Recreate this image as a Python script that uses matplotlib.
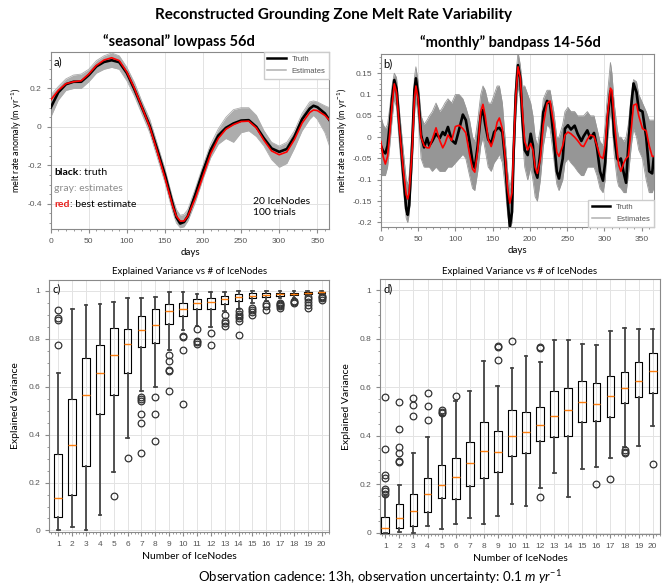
import matplotlib
matplotlib.use("Agg")
import matplotlib.pyplot as plt
from matplotlib.ticker import MultipleLocator, AutoMinorLocator
from matplotlib.lines import Line2D

plt.rcParams['font.family'] = ['Lato', 'DejaVu Sans']
plt.rcParams['mathtext.fontset'] = 'custom'
plt.rcParams['mathtext.rm'] = 'Lato'
plt.rcParams['mathtext.it'] = 'Lato:italic'

# ---------- panel a: seasonal lowpass ----------
days_a = [0, 10, 20, 30, 40, 50, 60, 70, 80, 90, 100, 110, 120, 130, 140, 150, 160, 165, 170, 175,
          180, 190, 200, 210, 220, 230, 240, 250, 260, 270, 280, 290, 300, 310, 320, 330, 340, 345,
          350, 360, 366]
truth_a = [0.10, 0.18, 0.222, 0.235, 0.235, 0.27, 0.315, 0.338, 0.347, 0.337, 0.28, 0.195, 0.10,
           0.005, -0.12, -0.25, -0.40, -0.47, -0.503, -0.495, -0.465, -0.35, -0.23, -0.12, -0.045,
           -0.005, 0.018, 0.033, 0.035, 0.0, -0.06, -0.112, -0.13, -0.115, -0.05, 0.04, 0.095, 0.11,
           0.103, 0.07, 0.035]
best_a = [0.14, 0.19, 0.225, 0.235, 0.24, 0.275, 0.32, 0.348, 0.36, 0.345, 0.285, 0.20, 0.10, 0.0,
          -0.13, -0.265, -0.41, -0.465, -0.49, -0.49, -0.465, -0.37, -0.255, -0.14, -0.06, -0.012,
          0.012, 0.028, 0.03, -0.005, -0.07, -0.125, -0.145, -0.13, -0.065, 0.02, 0.075, 0.088,
          0.085, 0.06, 0.035]
est_lo_a = [0.05, 0.14, 0.19, 0.20, 0.20, 0.235, 0.28, 0.30, 0.31, 0.30, 0.24, 0.16, 0.065, -0.03,
            -0.16, -0.29, -0.44, -0.50, -0.525, -0.52, -0.49, -0.39, -0.27, -0.16, -0.09, -0.06,
            -0.08, -0.03, -0.02, -0.05, -0.10, -0.17, -0.21, -0.19, -0.11, -0.02, 0.04, 0.06, 0.04,
            -0.03, -0.10]
est_hi_a = [0.165, 0.21, 0.25, 0.27, 0.275, 0.30, 0.345, 0.37, 0.385, 0.37, 0.31, 0.23, 0.13, 0.04,
            -0.09, -0.22, -0.37, -0.43, -0.46, -0.455, -0.43, -0.32, -0.20, -0.09, -0.01, 0.05,
            0.09, 0.10, 0.10, 0.06, -0.02, -0.08, -0.10, -0.08, -0.02, 0.07, 0.13, 0.135, 0.13,
            0.11, 0.10]

# ---------- panel b: monthly bandpass ----------
days_b = [0, 3, 6, 9, 12, 15, 18, 21, 25, 30, 34, 36, 38, 42, 45, 47, 50, 54, 58, 62, 65, 69, 74,
          79, 83, 86, 90, 95, 100, 105, 110, 114, 119, 123, 126, 130, 134, 137, 140, 144, 148, 152,
          156, 159, 163, 167, 170, 173, 176, 178, 181, 184, 187, 190, 193, 197, 201, 204, 207, 210,
          214, 218, 223, 227, 232, 236, 239, 244, 247, 251, 255, 260, 264, 269, 272, 277, 281, 286,
          290, 294, 298, 301, 304, 308, 310, 313, 317, 319, 322, 326, 329, 332, 336, 339, 343, 346,
          351, 356, 360, 364, 366]
truth_b = [-0.02, -0.033, -0.038, -0.02, 0.03, 0.09, 0.134, 0.114, 0.024, -0.085, -0.168, -0.182,
           -0.16, -0.02, 0.11, 0.138, 0.10, 0.005, -0.024, -0.002, -0.02, -0.009, 0.008, -0.002,
           0.012, 0.005, 0.024, -0.007, -0.015, 0.018, 0.053, 0.04, -0.011, -0.058, -0.072, -0.019,
           0.05, 0.064, 0.03, -0.005, -0.015, 0.012, 0.02, 0.022, 0.012, -0.058, -0.144, -0.21,
           -0.175, -0.04, 0.10, 0.169, 0.14, 0.04, -0.03, -0.042, 0.008, -0.019, -0.08, -0.095,
           -0.034, 0.059, 0.085, 0.078, -0.003, -0.08, -0.097, -0.05, 0.02, 0.028, 0.018, 0.027,
           0.008, -0.009, 0.002, 0.016, -0.003, 0.01, -0.025, -0.08, -0.102, -0.058, 0.04, 0.108,
           0.092, 0.005, -0.05, -0.055, -0.05, -0.085, -0.107, -0.02, 0.075, 0.126, 0.105, 0.065,
           0.06, 0.0, -0.08, -0.085, -0.05]
best_b = [-0.01, -0.045, -0.063, -0.045, 0.01, 0.075, 0.125, 0.105, 0.02, -0.075, -0.135, -0.145,
          -0.13, -0.03, 0.09, 0.12, 0.09, 0.0, -0.02, -0.025, -0.025, -0.005, 0.022, -0.008,
          -0.025, -0.015, 0.005, -0.008, 0.025, 0.028, 0.02, 0.01, -0.04, -0.075, -0.082, -0.03,
          0.06, 0.077, 0.05, -0.005, -0.022, 0.0, 0.035, 0.045, 0.02, -0.05, -0.12, -0.155, -0.13,
          -0.03, 0.095, 0.165, 0.14, 0.06, -0.01, -0.03, -0.015, -0.03, -0.07, -0.085, -0.05, 0.03,
          0.08, 0.085, 0.03, -0.035, -0.045, -0.02, 0.005, 0.012, 0.008, 0.0, -0.008, -0.02,
          -0.022, -0.005, 0.005, 0.002, -0.02, -0.045, -0.05, -0.02, 0.05, 0.115, 0.11, 0.04,
          -0.03, -0.065, -0.08, -0.06, -0.05, -0.045, 0.02, 0.075, 0.078, 0.05, 0.02, 0.015,
          -0.02, -0.045, -0.045]
est_lo_b = [-0.09, -0.09, -0.09, -0.07, -0.02, 0.04, 0.09, 0.07, -0.02, -0.12, -0.19, -0.20,
            -0.18, -0.07, 0.05, 0.09, 0.05, -0.05, -0.07, -0.07, -0.07, -0.08, -0.07, -0.08,
            -0.08, -0.08, -0.07, -0.07, -0.06, -0.05, -0.04, -0.05, -0.09, -0.12, -0.125, -0.08,
            -0.02, 0.0, -0.03, -0.07, -0.08, -0.06, -0.05, -0.04, -0.06, -0.12, -0.18, -0.215,
            -0.20, -0.09, 0.05, 0.12, 0.09, 0.0, -0.07, -0.10, -0.07, -0.10, -0.14, -0.15, -0.10,
            -0.02, 0.03, 0.02, -0.05, -0.11, -0.125, -0.10, -0.06, -0.05, -0.06, -0.07, -0.08,
            -0.09, -0.09, -0.07, -0.07, -0.07, -0.09, -0.12, -0.13, -0.10, -0.01, 0.06, 0.04,
            -0.04, -0.10, -0.115, -0.12, -0.13, -0.13, -0.09, -0.02, 0.02, 0.0, -0.03, -0.05,
            -0.10, -0.13, -0.13, -0.12]
est_hi_b = [0.05, 0.03, 0.02, 0.03, 0.07, 0.12, 0.15, 0.14, 0.06, -0.03, -0.10, -0.11, -0.09, 0.02,
            0.14, 0.165, 0.13, 0.05, 0.03, 0.04, 0.05, 0.06, 0.08, 0.06, 0.07, 0.08, 0.09, 0.08,
            0.10, 0.10, 0.09, 0.07, 0.04, 0.0, -0.01, 0.04, 0.10, 0.12, 0.11, 0.08, 0.08, 0.10,
            0.12, 0.12, 0.08, -0.01, -0.08, -0.12, -0.09, 0.0, 0.14, 0.20, 0.17, 0.12, 0.12, 0.10,
            0.08, 0.05, 0.0, -0.02, 0.02, 0.09, 0.11, 0.11, 0.06, 0.0, 0.0, 0.03, 0.06, 0.07, 0.06,
            0.06, 0.05, 0.05, 0.05, 0.06, 0.05, 0.05, 0.02, -0.01, -0.02, 0.03, 0.10, 0.175, 0.15,
            0.08, 0.02, 0.0, 0.0, -0.01, 0.0, 0.03, 0.10, 0.135, 0.13, 0.10, 0.08, 0.06, 0.04,
            0.04, 0.04]

# ---------- panel c: seasonal explained variance ----------
nodes = list(range(1, 21))
c_med = [0.135, 0.355, 0.565, 0.655, 0.733, 0.777, 0.838, 0.858, 0.915, 0.922, 0.947, 0.954,
         0.964, 0.974, 0.978, 0.982, 0.985, 0.988, 0.990, 0.993]
c_q1 = [0.055, 0.15, 0.27, 0.485, 0.567, 0.657, 0.765, 0.782, 0.862, 0.896, 0.922, 0.922, 0.944,
        0.957, 0.968, 0.972, 0.978, 0.982, 0.987, 0.989]
c_q3 = [0.32, 0.55, 0.72, 0.775, 0.845, 0.84, 0.893, 0.925, 0.945, 0.951, 0.965, 0.971, 0.979,
        0.985, 0.989, 0.989, 0.990, 0.992, 0.994, 0.996]
c_lo = [0.0, 0.013, 0.0, 0.065, 0.243, 0.385, 0.58, 0.597, 0.755, 0.836, 0.855, 0.847, 0.915,
        0.926, 0.947, 0.957, 0.968, 0.971, 0.982, 0.985]
c_hi = [0.655, 0.925, 0.94, 0.945, 0.952, 0.968, 0.968, 0.975, 0.993, 0.993, 0.986, 0.995, 0.996,
        0.997, 0.997, 0.997, 0.997, 0.998, 0.998, 0.999]
c_fliers = [[0.92, 0.885, 0.88, 0.775], [], [], [], [0.145], [0.303],
            [0.558, 0.548, 0.54, 0.488, 0.45, 0.322], [0.558, 0.487, 0.373],
            [0.733, 0.707, 0.668, 0.665, 0.58], [0.81, 0.806, 0.755, 0.527],
            [0.84, 0.792, 0.786, 0.78], [0.822, 0.773], [0.897, 0.875, 0.864, 0.851],
            [0.915, 0.905, 0.895, 0.885, 0.875, 0.815], [0.93, 0.92, 0.912, 0.898],
            [0.945, 0.937, 0.92], [0.95, 0.945, 0.94, 0.935, 0.93], [0.958, 0.952, 0.948],
            [0.975, 0.965, 0.955, 0.94, 0.928], [0.978, 0.972, 0.968, 0.962]]

# ---------- panel d: monthly explained variance ----------
d_med = [0.018, 0.061, 0.091, 0.161, 0.197, 0.23, 0.287, 0.338, 0.335, 0.40, 0.415, 0.444, 0.48,
         0.506, 0.539, 0.531, 0.564, 0.596, 0.626, 0.669]
d_q1 = [0.0, 0.019, 0.029, 0.086, 0.142, 0.138, 0.194, 0.225, 0.252, 0.316, 0.327, 0.378, 0.394,
        0.399, 0.455, 0.462, 0.479, 0.534, 0.561, 0.577]
d_q3 = [0.065, 0.12, 0.161, 0.228, 0.28, 0.308, 0.374, 0.455, 0.421, 0.506, 0.497, 0.52, 0.583,
        0.597, 0.625, 0.617, 0.647, 0.661, 0.703, 0.741]
d_lo = [0.0, 0.004, 0.0, 0.03, 0.014, 0.037, 0.059, 0.037, 0.07, 0.119, 0.11, 0.183, 0.248, 0.149,
        0.265, 0.273, 0.31, 0.354, 0.359, 0.441]
d_hi = [0.152, 0.197, 0.328, 0.393, 0.485, 0.543, 0.583, 0.71, 0.607, 0.68, 0.728, 0.703, 0.793,
        0.796, 0.779, 0.775, 0.83, 0.844, 0.841, 0.841]
d_fliers = [[0.56, 0.345, 0.24, 0.225, 0.179, 0.172, 0.16],
            [0.538, 0.43, 0.352, 0.331, 0.296, 0.292], [0.556, 0.528, 0.483],
            [0.575, 0.521, 0.465], [0.505, 0.498, 0.492], [0.566], [], [],
            [0.772, 0.765, 0.714], [0.789], [], [0.768, 0.762, 0.149], [], [], [], [0.20],
            [0.222], [0.342, 0.335, 0.328], [], [0.283]]

fig = plt.figure(figsize=(6.67, 5.86), dpi=100)

frame_col = '#8a8a8a'


def style_axes(ax):
    for s in ax.spines.values():
        s.set_color(frame_col)
        s.set_linewidth(0.8)
    ax.tick_params(which='both', colors=frame_col, labelcolor='#555555', labelsize=6,
                   direction='out')
    ax.tick_params(which='major', length=3)
    ax.tick_params(which='minor', length=1.5)
    for lab in ax.get_xticklabels() + ax.get_yticklabels():
        lab.set_family('Liberation Sans')
    ax.grid(True, color='#e3e3e3', lw=0.7)
    ax.set_axisbelow(True)


def line_panel(ax, days, truth, best, lo, hi, ylim, ystep, gray):
    ax.fill_between(days, lo, hi, color=gray, lw=0, zorder=2)
    ax.plot(days, lo, color=gray, lw=0.6, zorder=2)
    ax.plot(days, hi, color=gray, lw=0.6, zorder=2)
    ax.plot(days, truth, color='black', lw=1.9, zorder=3)
    ax.plot(days, best, color='red', lw=1.2, zorder=4)
    ax.set_xlim(0, 366)
    ax.set_ylim(*ylim)
    ax.xaxis.set_major_locator(MultipleLocator(50))
    ax.xaxis.set_minor_locator(MultipleLocator(10))
    ax.yaxis.set_major_locator(MultipleLocator(ystep))
    ax.yaxis.set_minor_locator(AutoMinorLocator(4))
    ax.set_xlabel('days', fontsize=7, labelpad=2)
    ax.set_ylabel('melt rate anomaly (m yr$^{-1}$)', fontsize=6.5, labelpad=2)
    style_axes(ax)


def add_legend(ax, loc):
    leg = ax.legend([Line2D([], [], color='black', lw=1.8), Line2D([], [], color='#b0b0b0', lw=1.1)],
                    ['Truth', 'Estimates'], loc=loc, frameon=True, fancybox=False,
                    handlelength=2.4, borderaxespad=0, borderpad=0.5, labelspacing=0.6,
                    prop={'family': 'Liberation Sans', 'size': 5.5})
    leg.get_frame().set_edgecolor('#cccccc')
    leg.get_frame().set_alpha(1)
    for t in leg.get_texts():
        t.set_color('#555555')


def box_panel(ax, med, q1, q3, lo, hi, fliers, xlim):
    stats = []
    for i in range(len(nodes)):
        stats.append(dict(med=med[i], q1=q1[i], q3=q3[i], whislo=lo[i], whishi=hi[i],
                          fliers=fliers[i]))
    ax.bxp(stats, positions=nodes, widths=0.55, capwidths=0.2,
           boxprops=dict(color='black', lw=0.8),
           whiskerprops=dict(color='#444444', lw=1.3),
           capprops=dict(color='#444444', lw=1.3),
           medianprops=dict(color='#ff7f0e', lw=1.0),
           flierprops=dict(marker='o', mfc='none', mec='#333333', ms=4.8, mew=0.9))
    ax.set_xlim(*xlim)
    ax.set_ylim(-0.005, 1.045)
    ax.yaxis.set_minor_locator(MultipleLocator(0.05))
    ax.xaxis.set_minor_locator(MultipleLocator(0.25))
    ax.set_yticks([0, 0.2, 0.4, 0.6, 0.8, 1.0], ['0', '0.2', '0.4', '0.6', '0.8', '1'])
    ax.set_xlabel('Number of IceNodes', fontsize=7.5, labelpad=3)
    ax.set_ylabel('Explained Variance', fontsize=7.5, labelpad=6)
    ax.set_title('Explained Variance vs # of IceNodes', fontsize=7, pad=4)
    style_axes(ax)


# panel a
ax_a = fig.add_axes([0.076, 0.6087, 0.418, 0.3026])
line_panel(ax_a, days_a, truth_a, best_a, est_lo_a, est_hi_a, (-0.533, 0.39), 0.2, '#adadad')
ax_a.set_yticks([-0.4, -0.2, 0, 0.2], ['-0.4', '-0.2', '0', '0.2'])
for lab in ax_a.get_yticklabels():
    lab.set_family('Liberation Sans')
add_legend(ax_a, 'upper right')
ax_a.text(0.01, 0.975, 'a)', transform=ax_a.transAxes, fontsize=8, va='top', ha='left')

t1 = ax_a.text(0.013, 0.305, 'black', transform=ax_a.transAxes, fontsize=7.5, fontweight='bold',
               color='black', va='baseline')
ax_a.annotate(': truth', xy=(1, 0), xycoords=t1, fontsize=7.5, color='black', va='bottom')
ax_a.text(0.013, 0.215, 'gray: estimates', transform=ax_a.transAxes, fontsize=7.5, color='#8c8c8c',
          va='baseline')
t3 = ax_a.text(0.013, 0.125, 'red', transform=ax_a.transAxes, fontsize=7.5, fontweight='bold',
               color='#e8201c', va='baseline')
ax_a.annotate(': best estimate', xy=(1, 0), xycoords=t3, fontsize=7.5, color='black', va='bottom')
ax_a.text(0.725, 0.07, '20 IceNodes\n100 trials', transform=ax_a.transAxes, fontsize=7.5,
          va='bottom', ha='left', linespacing=1.2)

# panel b
ax_b = fig.add_axes([0.571, 0.6131, 0.409, 0.2947])
line_panel(ax_b, days_b, truth_b, best_b, est_lo_b, est_hi_b, (-0.21, 0.195), 0.05, '#969696')
ax_b.set_yticks([-0.2, -0.15, -0.1, -0.05, 0, 0.05, 0.1, 0.15],
                ['-0.2', '-0.15', '-0.1', '-0.05', '0', '0.05', '0.1', '0.15'])
ax_b.yaxis.set_minor_locator(AutoMinorLocator(4))
for lab in ax_b.get_yticklabels():
    lab.set_family('Liberation Sans')
add_legend(ax_b, 'lower right')
ax_b.text(0.01, 0.975, 'b)', transform=ax_b.transAxes, fontsize=8, va='top', ha='left')

# panel c
ax_c = fig.add_axes([0.0739, 0.0927, 0.4198, 0.4295])
box_panel(ax_c, c_med, c_q1, c_q3, c_lo, c_hi, c_fliers, (0.35, 20.55))
ax_c.text(0.012, 0.985, 'c)', transform=ax_c.transAxes, fontsize=8, va='top', ha='left')

# panel d
ax_d = fig.add_axes([0.5697, 0.0887, 0.4198, 0.4346])
box_panel(ax_d, d_med, d_q1, d_q3, d_lo, d_hi, d_fliers, (0.62, 20.52))
ax_d.text(0.012, 0.985, 'd)', transform=ax_d.transAxes, fontsize=8, va='top', ha='left')

fig.text(0.5, 0.974, 'Reconstructed Grounding Zone Melt Rate Variability', ha='center',
         va='center', fontsize=11, fontweight='bold')
fig.text(179 / 667, 1 - 42 / 586, '\u201cseasonal\u201d lowpass 56d', ha='center', va='center',
         fontsize=10.5, fontweight='bold')
fig.text(510 / 667, 1 - 43 / 586, '\u201cmonthly\u201d bandpass 14-56d', ha='center', va='center',
         fontsize=10.5, fontweight='bold')
fig.text(380 / 667, 1 - 577 / 586,
         'Observation cadence: 13h, observation uncertainty: 0.1 $\\mathit{m\\ yr^{-1}}$',
         ha='center', va='center', fontsize=9.5)

fig.savefig('out.png', dpi=100)
